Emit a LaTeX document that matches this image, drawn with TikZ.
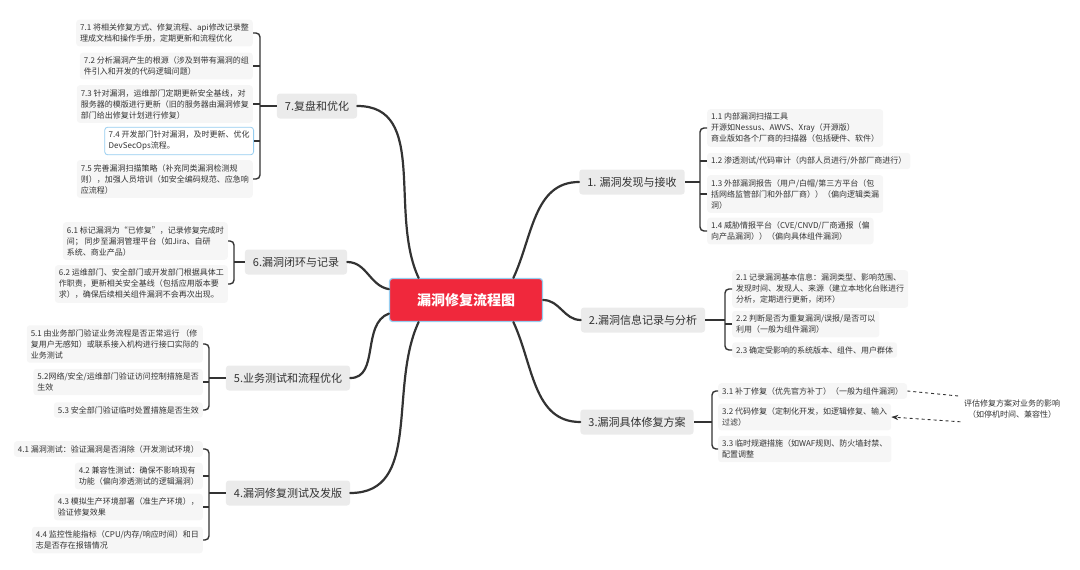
\documentclass[tikz,border=0pt]{standalone}
\usepackage{fontspec}
\setmainfont{Noto Sans CJK SC}
\usepackage{tikz}
\usetikzlibrary{positioning,arrows.meta,calc}
\definecolor{RootRed}{RGB}{240,40,60}
\definecolor{InkGrey}{RGB}{51,51,51}
\definecolor{TopicGrey}{RGB}{235,235,235}
\definecolor{LeafGrey}{RGB}{246,246,246}
\definecolor{PickBlue}{RGB}{150,205,240}

\begin{document}
\begin{tikzpicture}[x=1pt,y=-1pt,
       >=Stealth, InkGrey, text=InkGrey,
       trunk/.style={line width=2.2pt, line cap=round},
       brace/.style={line width=1.4pt, rounded corners=4pt},
       root/.style={fill=RootRed, draw=PickBlue, line width=1.2pt, rounded corners=3pt,
                    minimum width=153pt, minimum height=43pt, text=white,
                    font=\fontsize{14}{16}\selectfont\bfseries},
       topic/.style={fill=TopicGrey, rounded corners=3pt, minimum height=25pt,
                     inner xsep=8pt, font=\fontsize{11}{13}\selectfont},
       leaf/.style={fill=LeafGrey, rounded corners=3pt, align=left, inner sep=4pt,
                    font=\fontsize{8}{11}\selectfont},
       note/.style={align=center, font=\fontsize{8}{11}\selectfont}]
	\useasboundingbox (0,0) rectangle (1080,570);

	%% Root and main topics
	\node [root] (root) at (466,300) {漏洞修复流程图};
	\node [topic] (t7) at (317,106) {7.复盘和优化};
	\node [topic] (t6) at (296,262) {6.漏洞闭环与记录};
	\node [topic] (t5) at (288,378) {5.业务测试和流程优化};
	\node [topic] (t4) at (288,493) {4.漏洞修复测试及发版};
	\node [topic] (t1) at (632,182) {1. 漏洞发现与接收};
	\node [topic] (t2) at (643,320) {2.漏洞信息记录与分析};
	\node [topic] (t3) at (637,422) {3.漏洞具体修复方案};

	%% Trunk curves
	\draw [trunk] (root.155) to[out=115,in=0] (t7.east);
	\draw [trunk] (root.172) to[out=170,in=0] (t6.east);
	\draw [trunk] (root.190) to[out=200,in=0] (t5.east);
	\draw [trunk] (root.205) to[out=245,in=0] (t4.east);
	\draw [trunk] (root.25) to[out=65,in=180] (t1.west);
	\draw [trunk] (root.east) to[out=0,in=180] (t2.west);
	\draw [trunk] (root.335) to[out=295,in=180] (t3.west);

	%% Leaves of 7
	\node [leaf, anchor=east] (l71) at (253,33) {7.1 将相关修复方式、修复流程、api修改记录整\\理成文档和操作手册，定期更新和流程优化};
	\node [leaf, anchor=east] (l72) at (253,66) {7.2 分析漏洞产生的根源（涉及到带有漏洞的组\\件引入和开发的代码逻辑问题）};
	\node [leaf, anchor=east] (l73) at (253,104) {7.3 针对漏洞，运维部门定期更新安全基线，对\\服务器的模版进行更新（旧的服务器由漏洞修复\\部门给出修复计划进行修复）};
	\node [leaf, anchor=east, fill=white, draw=PickBlue, line width=0.8pt] (l74) at (254,141) {7.4 开发部门针对漏洞，及时更新、优化\\DevSecOps流程。};
	\node [leaf, anchor=east] (l75) at (253,179) {7.5 完善漏洞扫描策略（补充同类漏洞检测规\\则），加强人员培训（如安全编码规范、应急响\\应流程）};
	\coordinate (b7) at (260,106);
	\draw [brace] (l71.east) -| (b7) |- (l75.east);
	\foreach \l in {l72,l73,l74} \draw [brace] (\l.east) -- (\l.east -| b7);
	\draw [brace] (b7) -- (t7.west);

	%% Leaves of 6
	\node [leaf, anchor=east] (l61) at (228,241) {6.1 标记漏洞为“已修复”，记录修复完成时\\间； 同步至漏洞管理平台（如Jira、自研\\系统、商业产品）};
	\node [leaf, anchor=east] (l62) at (228,284) {6.2 运维部门、安全部门或开发部门根据具体工\\作职责，更新相关安全基线（包括应用版本要\\求），确保后续相关组件漏洞不会再次出现。};
	\coordinate (b6) at (234,262);
	\draw [brace] (l61.east) -| (b6) |- (l62.east);
	\draw [brace] (b6) -- (t6.west);

	%% Leaves of 5
	\node [leaf, anchor=east] (l51) at (203,344) {5.1 由业务部门验证业务流程是否正常运行 （修\\复用户无感知）或联系接入机构进行接口实际的\\业务测试};
	\node [leaf, anchor=east] (l52) at (203,382) {5.2网络/安全/运维部门验证访问控制措施是否\\生效};
	\node [leaf, anchor=east] (l53) at (203,410) {5.3 安全部门验证临时处置措施是否生效};
	\coordinate (b5) at (209,378);
	\draw [brace] (l51.east) -| (b5) |- (l53.east);
	\draw [brace] (l52.east) -- (l52.east -| b5);
	\draw [brace] (b5) -- (t5.west);

	%% Leaves of 4
	\node [leaf, anchor=east] (l41) at (203,449) {4.1 漏洞测试：验证漏洞是否消除（开发测试环境）};
	\node [leaf, anchor=east] (l42) at (203,476) {4.2 兼容性测试：确保不影响现有\\功能（偏向渗透测试的逻辑漏洞）};
	\node [leaf, anchor=east] (l43) at (203,507) {4.3 模拟生产环境部署（准生产环境），\\验证修复效果};
	\node [leaf, anchor=east] (l44) at (203,540) {4.4 监控性能指标（CPU/内存/响应时间）和日\\志是否存在报错情况};
	\coordinate (b4) at (209,493);
	\draw [brace] (l41.east) -| (b4) |- (l44.east);
	\foreach \l in {l42,l43} \draw [brace] (\l.east) -- (\l.east -| b4);
	\draw [brace] (b4) -- (t4.west);

	%% Leaves of 1
	\node [leaf, anchor=west] (l11) at (707,128) {1.1 内部漏洞扫描工具\\开源如Nessus、AWVS、Xray（开源版）\\商业版如各个厂商的扫描器（包括硬件、软件）};
	\node [leaf, anchor=west] (l12) at (707,161) {1.2 渗透测试/代码审计（内部人员进行/外部厂商进行）};
	\node [leaf, anchor=west] (l13) at (707,194) {1.3 外部漏洞报告（用户/白帽/第三方平台（包\\括网络监管部门和外部厂商））（偏向逻辑类漏\\洞）};
	\node [leaf, anchor=west] (l14) at (707,231) {1.4 威胁情报平台（CVE/CNVD/厂商通报（偏\\向产品漏洞））（偏向具体组件漏洞）};
	\coordinate (b1) at (700,182);
	\draw [brace] (l11.west) -| (b1) |- (l14.west);
	\foreach \l in {l12,l13} \draw [brace] (\l.west) -- (\l.west -| b1);
	\draw [brace] (b1) -- (t1.east);

	%% Leaves of 2
	\node [leaf, anchor=west] (l21) at (732,289) {2.1 记录漏洞基本信息：漏洞类型、影响范围、\\发现时间、发现人、来源（建立本地化台账进行\\分析，定期进行更新，闭环）};
	\node [leaf, anchor=west] (l22) at (732,324) {2.2 判断是否为重复漏洞/误报/是否可以\\利用（一般为组件漏洞）};
	\node [leaf, anchor=west] (l23) at (732,350) {2.3 确定受影响的系统版本、组件、用户群体};
	\coordinate (b2) at (725,320);
	\draw [brace] (l21.west) -| (b2) |- (l23.west);
	\draw [brace] (l22.west) -- (l22.west -| b2);
	\draw [brace] (b2) -- (t2.east);

	%% Leaves of 3
	\node [leaf, anchor=west] (l31) at (718,391) {3.1 补丁修复（优先官方补丁）（一般为组件漏洞）};
	\node [leaf, anchor=west] (l32) at (718,417) {3.2 代码修复（定制化开发，如逻辑修复、输入\\过滤）};
	\node [leaf, anchor=west] (l33) at (718,449) {3.3 临时规避措施（如WAF规则、防火墙封禁、\\配置调整};
	\coordinate (b3) at (712,422);
	\draw [brace] (l31.west) -| (b3) |- (l33.west);
	\draw [brace] (b3) -- (t3.east);

	%% Note on 3.1 and 3.2
	\node [note] (eval) at (1012,409) {评估修复方案对业务的影响\\（如停机时间、兼容性）};
	\draw [dashed, line width=0.9pt] (l31.east) -- (eval.north west);
	\draw [->, dashed, line width=0.9pt] (eval.south west) -- (l32.east);
\end{tikzpicture}
\end{document}
